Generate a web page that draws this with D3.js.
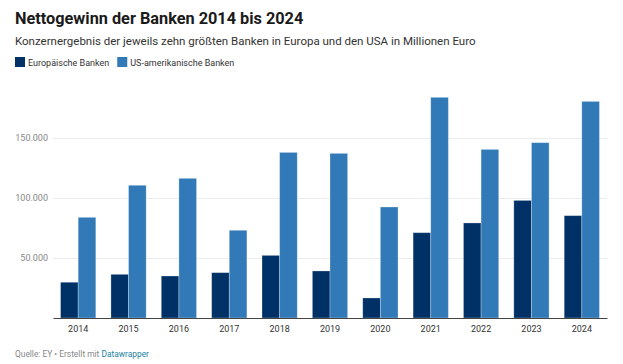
<!DOCTYPE html>
<html><head><meta charset="utf-8">
<script src="https://cdn.jsdelivr.net/npm/d3@7"></script>
<style>
body{margin:0;background:#fff;}
svg text{font-family:Roboto,"Noto Sans",sans-serif;}
</style></head>
<body><svg id="c" width="623" height="364"></svg>
<script>
const years = ["2014","2015","2016","2017","2018","2019","2020","2021","2022","2023","2024"];
const seriesNames = ["Europäische Banken","US-amerikanische Banken"];
const europe = [29800,36400,35000,37800,52200,39200,16700,71100,79200,98000,85300];
const usa = [83900,110600,116400,73100,138000,137200,92500,183900,140500,146100,180500];
const yTicks = [50000,100000,150000];
const colors = ["#003166","#3279b8"];

const svg = d3.select("#c");
const m = {left:53, right:607, top:80, bottom:318};
const x = d3.scaleBand().domain(years).range([m.left,m.right]).paddingInner(0.3).paddingOuter(0.15);
const xs = d3.scaleBand().domain([0,1]).range([0,x.bandwidth()]);
const y = d3.scaleLinear().domain([0,200000]).range([m.bottom, m.bottom-240]);
const fmt = d3.format(",");
const de = v => fmt(v).replace(/,/g,".");

svg.append("text").attr("x",15).attr("y",24).attr("font-size",16.3).attr("font-weight",700).attr("fill","#1a1a1a").text("Nettogewinn der Banken 2014 bis 2024");
svg.append("text").attr("x",15).attr("y",45).attr("font-size",11.5).attr("fill","#333").text("Konzernergebnis der jeweils zehn größten Banken in Europa und den USA in Millionen Euro");

const lg = svg.append("g");
let lx = 15;
seriesNames.forEach((n,i)=>{
  lg.append("rect").attr("x",lx).attr("y",57).attr("width",10).attr("height",10).attr("fill",colors[i]);
  const t = lg.append("text").attr("x",lx+13).attr("y",65.5).attr("font-size",9).attr("fill","#333").text(n);
  lx += 13 + t.node().getComputedTextLength() + 8;
});

// grid
const yAxis = d3.axisLeft(y).tickValues(yTicks).tickSize(-(m.right-m.left)).tickFormat(de);
const ga = svg.append("g").attr("transform",`translate(${m.left},0)`).call(yAxis);
ga.select(".domain").remove();
ga.selectAll(".tick line").attr("stroke","#ececec");
ga.selectAll(".tick text").attr("x",-5).attr("font-size",9).attr("fill","#888").attr("font-family","Roboto");

// bars
const g = svg.append("g");
years.forEach((yr,i)=>{
  [europe[i],usa[i]].forEach((v,j)=>{
    g.append("rect").attr("x",x(yr)+xs(j)).attr("y",y(v)).attr("width",xs.bandwidth()).attr("height",y(0)-y(v))
      .attr("fill",colors[j]).attr("stroke","#ffffff").attr("stroke-opacity",0.35).attr("stroke-width",0.8);
  });
});

const xAxis = d3.axisBottom(x).tickSize(0).tickPadding(6);
const gx = svg.append("g").attr("transform",`translate(0,${m.bottom})`).call(xAxis);
gx.select(".domain").attr("stroke","#444").attr("stroke-width",1);
gx.selectAll(".tick text").attr("font-size",9).attr("fill","#333").attr("font-family","Roboto").attr("dy","0.9em");

const src = svg.append("text").attr("x",15).attr("y",357).attr("font-size",8.4).attr("fill","#888");
src.append("tspan").text("Quelle: EY • Erstellt mit ");
src.append("tspan").attr("fill","#1d81a2").text("Datawrapper");
</script></body></html>
